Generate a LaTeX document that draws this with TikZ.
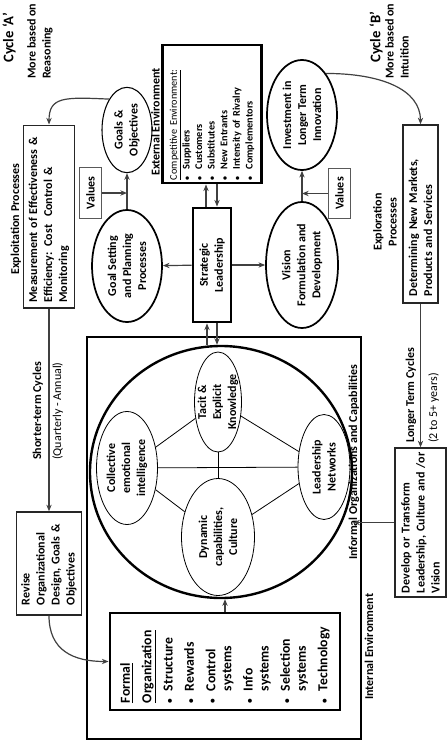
\documentclass[tikz,border=0pt]{standalone}
\usepackage{fontspec}
\setmainfont{Carlito}
\usepackage{tikz}
\usetikzlibrary{shapes.geometric}
\usetikzlibrary{arrows.meta}
\usetikzlibrary{calc}

\newcommand{\orgbul}{\makebox[9pt][l]{\fontsize{7}{7}\selectfont\textbullet}}
\newcommand{\orgind}{\hspace*{9pt}}
\newcommand{\envbul}{\makebox[8pt][l]{\fontsize{6}{6}\selectfont\textbullet}}

\begin{document}
\begin{tikzpicture}[x=0.75pt,y=0.75pt,yscale=-1,
  font=\fontsize{9}{11.25}\selectfont\bfseries,
  >={Stealth[length=5pt,width=4pt]},
  lbl/.style={rotate=90,inner sep=0pt,align=left},
  bigfont/.style={font=\fontsize{11}{13}\selectfont\bfseries},
  thinfont/.style={font=\fontsize{9}{11.25}\selectfont},
  oval/.style={ellipse,draw,line width=1.3pt,rotate=90,inner sep=-6pt,align=center},
  smalloval/.style={ellipse,draw,line width=0.6pt,rotate=90,inner sep=-6pt,align=center},
  procbox/.style={draw,black!85,text=black,line width=1pt,rotate=90,inner sep=0pt,align=left},
  valbox/.style={draw,black!65,text=black,line width=0.8pt,rotate=90,inner sep=0pt,minimum width=38pt,minimum height=17pt},
  thickbox/.style={draw,line width=2.2pt,rotate=90,inner sep=0pt},
  link/.style={->,black!75,line width=0.9pt},
  spoke/.style={line width=0.6pt}
]
\path[use as bounding box] (0,0) rectangle (447,742);

%Text: cycle headings
\node[lbl,bigfont,anchor=west] (cycA) at (9,63) {Cycle ‘A’};
\node[lbl,anchor=north west] (reasA) at (27,79) {More based on\\Reasoning};
\node[lbl,bigfont,anchor=west] (cycB) at (376,63) {Cycle ‘B’};
\node[lbl,anchor=north west] (intuB) at (385,79) {More based on\\Intuition};

%Cycle A: exploitation
\node[lbl,anchor=base] (exploit) at (19,219) {Exploitation Processes};
\node[procbox,minimum width=137pt,minimum height=38pt,text width=129pt] (meas) at (49,216.5) {Measurement of Effectiveness \&\\Efficiency: Cost~ Control \&\\Monitoring};
\node[oval,line width=0.8pt,minimum width=64pt,minimum height=37.5pt] (goals) at (127,130) {Goals \&\\Objectives};
\node[valbox] (valA) at (90.5,193) {Values};
\node[oval,minimum width=84pt,minimum height=52.5pt] (goalset) at (127,266) {Goal Setting\\and Planning\\Processes};

%External environment
\node[lbl,anchor=base west] (extlbl) at (159.5,176) {External Environment};
\node[thickbox,minimum width=103.5pt,minimum height=74.25pt,text width=99pt,align=left,font=\fontsize{7.7}{9.45}\selectfont\bfseries] (ext) at (212,114) {{\mdseries\underline{Competitive Environment:}}\\\envbul Suppliers\\\envbul Customers\\\envbul Substitutes\\\envbul New Entrants\\\envbul Intensity of Rivalry\\\envbul Complementors};
\node[thickbox,minimum width=85.5pt,minimum height=28.5pt,align=center] (strat) at (212,265) {Strategic\\Leadership};

%Cycle B: exploration
\node[oval,minimum width=94.5pt,minimum height=54pt] (vision) at (302,265) {Vision\\Formulation and\\Development};
\node[oval,minimum width=82.5pt,minimum height=52.5pt] (invest) at (302,115) {Investment in\\Longer Term\\Innovation};
\node[valbox] (valB) at (339.5,193.5) {Values};
\node[lbl,align=center] (explor) at (385,222) {Exploration\\Processes};
\node[procbox,minimum width=133.5pt,minimum height=26.25pt,text width=123pt] (determ) at (420.5,214) {Determining New Markets,\\Products and Services};
\node[lbl,anchor=base west] (longlbl) at (414,443) {Longer Term Cycles};
\node[lbl,thinfont,anchor=base west] (longyrs) at (437,443) {(2 to 5+ years)};
\node[procbox,minimum width=111.75pt,minimum height=38.25pt,text width=105.75pt] (develop) at (420.5,522.5) {Develop or Transform\\Leadership, Culture and /or\\Vision};

%Cycle A: reorganising
\node[lbl,anchor=base west] (shortlbl) at (41,460) {Shorter-term Cycles};
\node[lbl,thinfont,anchor=base west] (shortyrs) at (61,460) {(Quarterly - Annual)};
\node[procbox,minimum width=77.25pt,minimum height=48.75pt,text width=62.25pt] (revise) at (49,563.5) {Revise\\Organizational\\Design, Goals \&\\Objectives};

%Shape: internal environment
\draw[line width=2.2pt] (87,337) rectangle (361,739);
\node[ellipse,draw,line width=1.8pt,minimum width=196.5pt,minimum height=189pt,inner sep=0pt] (infcirc) at (221,472) {};
\node[smalloval,minimum width=75pt,minimum height=35.25pt] (tacit) at (218,402) {Tacit \&\\Explicit\\Knowledge};
\node[smalloval,minimum width=84.75pt,minimum height=45.75pt] (collect) at (127,468) {Collective\\emotional\\intelligence};
\node[smalloval,minimum width=78.75pt,minimum height=39pt] (leadnet) at (324,467) {Leadership\\Networks};
\node[smalloval,minimum width=87.75pt,minimum height=54.75pt] (dyncap) at (218,537) {Dynamic\\capabilities,\\Culture};
\node[thickbox,minimum width=72.75pt,minimum height=172.5pt,text width=62.25pt,align=left,font=\fontsize{10.3}{12}\selectfont\bfseries] (formal) at (225,661.5) {\underline{Formal}\\[4pt]\underline{Organization}\\[4pt]\orgbul Structure\\[4pt]\orgbul Rewards\\[4pt]\orgbul Control\\\orgind systems\\[4pt]\orgbul Info\\\orgind systems\\[4pt]\orgbul Selection\\\orgind systems\\[4pt]\orgbul Technology};
\node[lbl,anchor=base west] (infolbl) at (357,560) {Informal Organizations and Capabilities};
\node[lbl,anchor=base west] (intlbl) at (373,700) {Internal Environment};

%Spokes
\draw[spoke] (tacit) -- (collect);
\draw[spoke] (tacit) -- (leadnet);
\draw[spoke] (tacit) -- (dyncap);
\draw[spoke] (collect) -- (leadnet);
\draw[spoke] (collect) -- (dyncap);
\draw[spoke] (dyncap) -- (leadnet);

%Connectors
\coordinate (extup) at ($(strat.east)+(-6,0)$);
\coordinate (extdn) at ($(strat.east)+(5,0)$);
\coordinate (cirup) at ($(strat.west)+(-5,0)$);
\coordinate (cirdn) at ($(strat.west)+(5,0)$);
\draw[link] (goals.30) .. controls ($(goals.30)+(-45,-2)$) and ($(meas.east)+(0,-28)$) .. (meas.east);
\draw[link] (goalset) -- (goals);
\draw[link] (valA.south) -- (valA.south -| goals);
\draw[link] (strat) -- (goalset);
\draw[link] (strat) -- (vision);
\draw[link] (extup) -- (extup |- ext.west);
\draw[link] (extdn |- ext.west) -- (extdn);
\draw[link] (cirup |- infcirc.north) -- (cirup);
\draw[link] (cirdn) -- (cirdn |- infcirc.north);
\draw[link] (vision) -- (invest);
\draw[link] (valB.north) -- (valB.north -| invest);
\draw[link] (invest.-30) .. controls ($(invest.-30)+(55,0)$) and ($(determ.east)+(0,-35)$) .. (determ.east);
\draw[link] (meas) -- (revise);
\draw[link] (revise.west) .. controls ($(revise.west)+(0,35)$) and ($(formal.north)+(-35,0)$) .. (formal.north);
\draw[link] (formal.east) -- (formal.east |- infcirc.south);
\draw[link] (determ) -- (develop);
\draw[link] (develop.north) -- (develop.north -| infcirc.east);

\end{tikzpicture}
\end{document}
